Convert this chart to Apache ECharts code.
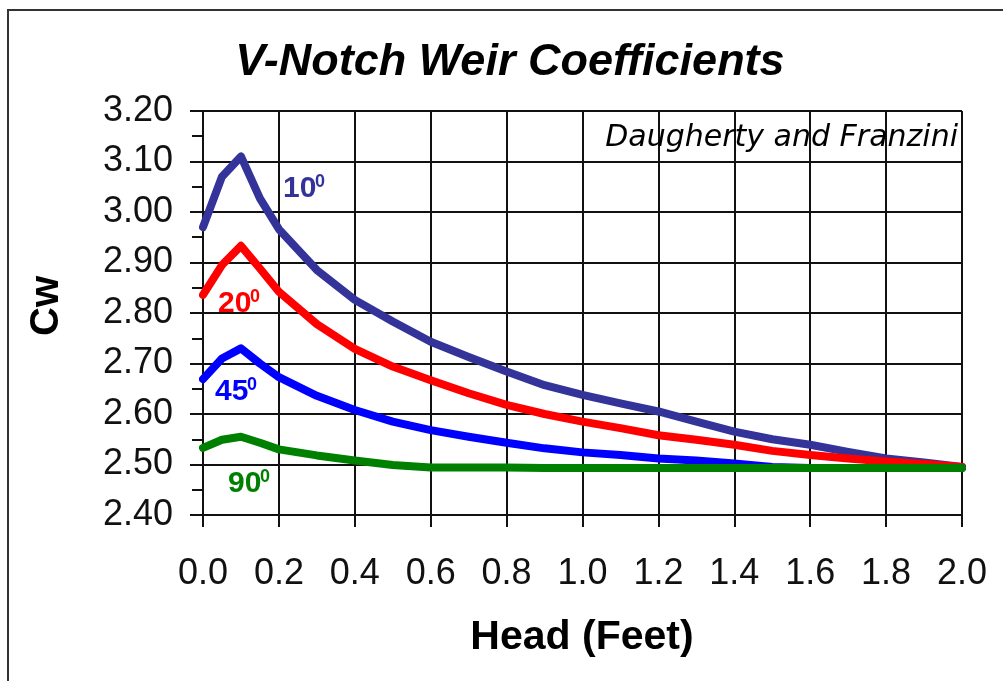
<!DOCTYPE html>
<html>
<head>
<meta charset="utf-8">
<script src="https://cdn.jsdelivr.net/npm/echarts@6/dist/echarts.min.js"></script>
<style>
  html, body { margin: 0; padding: 0; background: #fff; }
  #chart { width: 1003px; height: 681px; }
</style>
</head>
<body>
<div id="chart"></div>
<script>
// Head values (feet) shared by every curve
const heads = [0, 0.05, 0.1, 0.15, 0.2, 0.3, 0.4, 0.5, 0.6, 0.7, 0.8, 0.9, 1.0,
               1.1, 1.2, 1.3, 1.4, 1.5, 1.6, 1.7, 1.8, 1.9, 2.0];

// Weir coefficient Cw for each notch angle
const cw10 = [2.970, 3.070, 3.110, 3.027, 2.966, 2.885, 2.826, 2.783, 2.743, 2.713, 2.684, 2.657, 2.638,
              2.621, 2.605, 2.585, 2.565, 2.550, 2.539, 2.525, 2.512, 2.504, 2.495];
const cw20 = [2.836, 2.895, 2.933, 2.888, 2.842, 2.778, 2.729, 2.694, 2.667, 2.641, 2.618, 2.600, 2.585,
              2.572, 2.558, 2.549, 2.539, 2.527, 2.519, 2.512, 2.506, 2.501, 2.495];
const cw45 = [2.669, 2.710, 2.730, 2.700, 2.673, 2.636, 2.608, 2.585, 2.568, 2.555, 2.543, 2.532, 2.524,
              2.519, 2.512, 2.508, 2.502, 2.495, 2.493, 2.493, 2.493, 2.493, 2.493];
const cw90 = [2.533, 2.549, 2.555, 2.543, 2.530, 2.518, 2.508, 2.499, 2.494, 2.494, 2.494, 2.493, 2.493,
              2.493, 2.493, 2.493, 2.493, 2.493, 2.493, 2.493, 2.493, 2.493, 2.493];

const seriesNames = ['10', '20', '45', '90'];
const seriesValues = [cw10, cw20, cw45, cw90];
const seriesColors = ['#333399', '#ff0000', '#0000ff', '#008000'];

// Tick labels
const xTickLabels = ['0.0', '0.2', '0.4', '0.6', '0.8', '1.0', '1.2', '1.4', '1.6', '1.8', '2.0'];
const yTickLabels = ['2.40', '2.50', '2.60', '2.70', '2.80', '2.90', '3.00', '3.10', '3.20'];

const FONT = '"Liberation Sans", Arial, sans-serif';
const GRID_LINE = { color: '#111', width: 2 };

const chart = echarts.init(document.getElementById('chart'), null, { renderer: 'canvas' });

const series = seriesNames.map((name, i) => ({
  name: name,
  type: 'line',
  data: heads.map((h, j) => [h, seriesValues[i][j]]),
  smooth: false,
  showSymbol: false,
  symbol: 'none',
  z: 3 + i,
  lineStyle: { color: seriesColors[i], width: 8, cap: 'round', join: 'round' },
  itemStyle: { color: seriesColors[i] }
}));

// Curve labels: main number plus raised "0" (degrees)
const curveLabels = [
  { main: '10', x: 283, y: 189, supX: 315, supY: 182, color: seriesColors[0] },
  { main: '20', x: 218, y: 304, supX: 250, supY: 297, color: seriesColors[1] },
  { main: '45', x: 215, y: 392, supX: 247, supY: 385, color: seriesColors[2] },
  { main: '90', x: 228, y: 484, supX: 260, supY: 477, color: seriesColors[3] }
];

const graphics = [
  {
    type: 'rect', z: 0, silent: true,
    shape: { x: 8, y: 10, width: 1100, height: 800 },
    style: { fill: null, stroke: '#333', lineWidth: 2 }
  },
  {
    type: 'text', x: 510, y: 63, z: 10,
    style: { text: 'V-Notch Weir Coefficients', font: 'italic bold 45px ' + FONT,
             fill: '#000', align: 'center', verticalAlign: 'middle' }
  },
  {
    type: 'text', x: 958, y: 138, z: 10,
    style: { text: 'Daugherty and Franzini', font: 'italic 30px "DejaVu Sans", sans-serif',
             fill: '#000', align: 'right', verticalAlign: 'middle' }
  },
  {
    type: 'text', x: 582, y: 638, z: 10,
    style: { text: 'Head (Feet)', font: 'bold 41px ' + FONT,
             fill: '#000', align: 'center', verticalAlign: 'middle' }
  },
  {
    type: 'text', x: 47, y: 306, z: 10, rotation: Math.PI / 2,
    style: { text: 'Cw', font: 'bold 40px ' + FONT,
             fill: '#000', align: 'center', verticalAlign: 'middle' }
  }
];

curveLabels.forEach(l => {
  graphics.push({
    type: 'text', x: l.x, y: l.y, z: 10,
    style: { text: l.main, font: 'bold 30px ' + FONT, fill: l.color, align: 'left', verticalAlign: 'middle' }
  });
  graphics.push({
    type: 'text', x: l.supX, y: l.supY, z: 10,
    style: { text: '0', font: 'bold 18px ' + FONT, fill: l.color, align: 'left', verticalAlign: 'middle' }
  });
});

chart.setOption({
  animation: false,
  backgroundColor: '#fff',
  grid: { left: 203, right: 41, top: 111, bottom: 166, containLabel: false },
  xAxis: {
    type: 'value',
    min: 0, max: 2, interval: 0.2,
    axisLine: { show: true, onZero: false, lineStyle: GRID_LINE },
    axisTick: { show: true, inside: false, length: 12, lineStyle: GRID_LINE },
    splitLine: { show: true, lineStyle: GRID_LINE },
    axisLabel: {
      fontFamily: FONT, fontSize: 36, color: '#111', margin: 41,
      formatter: v => xTickLabels[Math.round(v / 0.2)]
    }
  },
  yAxis: {
    type: 'value',
    min: 2.4, max: 3.2, interval: 0.1,
    axisLine: { show: true, onZero: false, lineStyle: GRID_LINE },
    axisTick: { show: true, inside: false, length: 13, lineStyle: GRID_LINE },
    minorTick: { show: true, splitNumber: 2, length: 11, lineStyle: GRID_LINE },
    minorSplitLine: { show: false },
    splitLine: { show: true, lineStyle: GRID_LINE },
    axisLabel: {
      fontFamily: FONT, fontSize: 36, color: '#111', margin: 30,
      formatter: v => yTickLabels[Math.round((v - 2.4) / 0.1)]
    }
  },
  series: series,
  graphic: graphics
});
</script>
</body>
</html>
